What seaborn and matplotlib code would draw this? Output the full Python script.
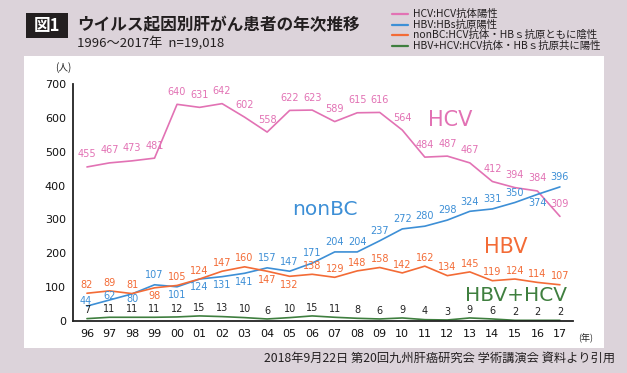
import pandas as pd
import seaborn as sns
import matplotlib.pyplot as plt
from matplotlib.patches import Rectangle

# data
years = ['96', '97', '98', '99', '00', '01', '02', '03', '04', '05', '06',
         '07', '08', '09', '10', '11', '12', '13', '14', '15', '16', '17']
hcv = [455, 467, 473, 481, 640, 631, 642, 602, 558, 622, 623,
       589, 615, 616, 564, 484, 487, 467, 412, 394, 384, 309]
nonbc = [44, 62, 80, 107, 101, 124, 131, 141, 157, 147, 171,
         204, 204, 237, 272, 280, 298, 324, 331, 350, 374, 396]
hbv = [82, 89, 81, 98, 105, 124, 147, 160, 147, 132, 138,
       129, 148, 158, 142, 162, 134, 145, 119, 124, 114, 107]
hbv_hcv = [7, 11, 11, 11, 12, 15, 13, 10, 6, 10, 15,
           11, 8, 6, 9, 4, 3, 9, 6, 2, 2, 2]

# which value labels sit below the line
nonbc_below = ['98', '00', '01', '02', '03', '16']
hbv_below = ['99', '04', '05']

legend_labels = ['HCV:HCV抗体陽性', 'HBV:HBs抗原陽性',
                 'nonBC:HCV抗体・HBｓ抗原ともに陰性',
                 'HBV+HCV:HCV抗体・HBｓ抗原共に陽性']

pink = '#e272b4'
blue = '#3d8fd6'
orange = '#f36b36'
green = '#3f7f3f'

sns.set_style('white')
plt.rcParams['font.family'] = ['DejaVu Sans', 'Noto Sans CJK JP']
jp = ['Noto Sans CJK JP', 'DejaVu Sans']

rows = []
for name, vals in [('HCV', hcv), ('nonBC', nonbc), ('HBV', hbv), ('HBV+HCV', hbv_hcv)]:
    for i, v in enumerate(vals):
        rows.append({'idx': i, 'value': v, 'series': name})
df = pd.DataFrame(rows)

fig = plt.figure(figsize=(6.27, 3.73), dpi=100)
fig.patch.set_facecolor('#dcd3da')

# white panel behind the chart
fig.patches.append(Rectangle((24 / 627, 1 - 348 / 373), (604 - 24) / 627, (348 - 56) / 373,
                             transform=fig.transFigure, facecolor='white', edgecolor='none', zorder=-5))

ax = fig.add_axes([73 / 627, 1 - 321 / 373, 500 / 627, 237 / 373])
ax.set_facecolor('none')
ax.set_zorder(2)

palette = {'HCV': pink, 'nonBC': blue, 'HBV': orange, 'HBV+HCV': green}
sns.lineplot(data=df, x='idx', y='value', hue='series', palette=palette,
             linewidth=1.2, legend=False, ax=ax)

ax.set_xlim(-0.62, 21.58)
ax.set_ylim(0, 700)
ax.set_xticks(range(len(years)))
ax.set_xticklabels(years)
ax.set_yticks(range(0, 701, 100))
ax.tick_params(axis='x', direction='in', length=3, width=1, labelsize=8, pad=6, colors='#111')
ax.tick_params(axis='y', direction='out', length=3, width=1, labelsize=8, pad=2, colors='#111')
ax.set_xlabel('')
ax.set_ylabel('')
for s in ['top', 'right']:
    ax.spines[s].set_visible(False)
for s in ['left', 'bottom']:
    ax.spines[s].set_color('#222')
    ax.spines[s].set_linewidth(1.3)

# value labels
def put_labels(vals, color, below=(), up=10, down=-12, special=None):
    special = special or {}
    for i, v in enumerate(vals):
        off = down if years[i] in below else up
        dx, dy = special.get(years[i], (0, off))
        ax.annotate(str(v), (i, v), xytext=(dx, dy), textcoords='offset points',
                    ha='center', va='center', fontsize=7, color=color)

put_labels(hcv, pink, up=9)
put_labels(nonbc, blue, below=nonbc_below, up=7, down=-6,
           special={'96': (-1, 4), '97': (0, 3), '98': (0, -4)})
put_labels(hbv, orange, below=hbv_below, up=6, down=-6)
put_labels(hbv_hcv, '#222', up=6)

# series names inside the chart
ax.text(16.12, 594, 'HCV', color=pink, fontsize=15, ha='center', va='center')
ax.text(10.57, 330, 'nonBC', color=blue, fontsize=14.5, ha='center', va='center')
ax.text(18.6, 219, 'HBV', color=orange, fontsize=15, ha='center', va='center')
ax.text(19.05, 74, 'HBV+HCV', color=green, fontsize=14.5, ha='center', va='center')

# axis unit labels
fig.text(63 / 627, 1 - 68 / 373, '(人)', family=jp, fontsize=7, ha='center', va='center', color='#222')
fig.text(578 / 627, 1 - 338 / 373, '(年)', family=jp, fontsize=6.5, ha='left', va='center', color='#222')

# title block
fig.patches.append(Rectangle((26 / 627, 1 - 38 / 373), 42 / 627, 25 / 373,
                             transform=fig.transFigure, facecolor='#231f20', edgecolor='none'))
fig.text(47 / 627, 1 - 26 / 373, '図1', family=jp, fontsize=12, fontweight='bold',
         color='white', ha='center', va='center')
fig.text(77 / 627, 1 - 25 / 373, 'ウイルス起因別肝がん患者の年次推移', family=jp, fontsize=12,
         fontweight='bold', color='#231f20', ha='left', va='center')
fig.text(77 / 627, 1 - 43 / 373, '1996〜2017年  n=19,018', family=jp, fontsize=9.5,
         color='#231f20', ha='left', va='center')

# legend drawn by hand (colours as in the reference)
for k, (lab, col) in enumerate(zip(legend_labels, [pink, blue, orange, green])):
    y = 1 - (14 + k * 10.7) / 373
    fig.lines.append(plt.Line2D([392 / 627, 408 / 627], [y, y], transform=fig.transFigure,
                                color=col, linewidth=1.6))
    fig.text(413 / 627, y, lab, family=jp, fontsize=7.5, color='#231f20', ha='left', va='center')

# source note
fig.text(615 / 627, 1 - 358 / 373, '2018年9月22日 第20回九州肝癌研究会 学術講演会 資料より引用',
         family=jp, fontsize=8.8, color='#231f20', ha='right', va='center')

fig.savefig('out.png', dpi=100, facecolor=fig.get_facecolor())
